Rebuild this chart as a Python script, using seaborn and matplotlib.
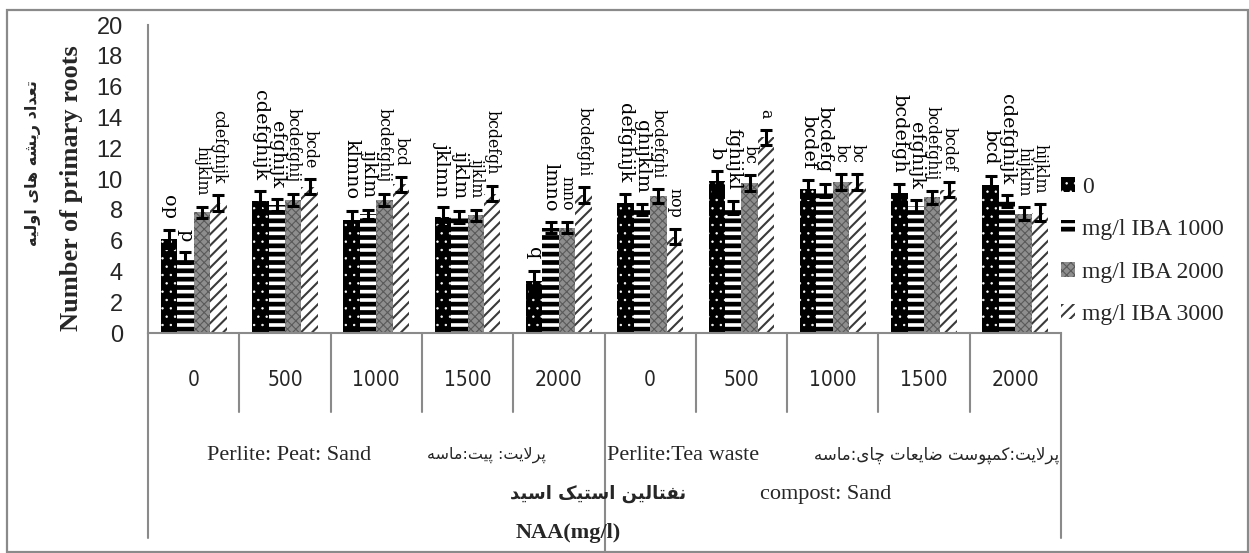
import numpy as np
import pandas as pd
import matplotlib
matplotlib.use("Agg")
import matplotlib.pyplot as plt
import matplotlib.transforms as mtransforms
from matplotlib.patches import Patch, Rectangle
from matplotlib.lines import Line2D
import seaborn as sns

# ---- data -------------------------------------------------------------
naa_levels = ["0", "500", "1000", "1500", "2000", "0", "500", "1000", "1500", "2000"]
iba_levels = ["0", "mg/l IBA 1000", "mg/l IBA 2000", "mg/l IBA 3000"]

roots_iba0 = [6.1, 8.6, 7.35, 7.55, 3.4, 8.45, 9.9, 9.35, 9.1, 9.6]
roots_iba1000 = [4.9, 8.3, 7.7, 7.55, 6.85, 8.0, 8.15, 9.25, 8.25, 8.55]
roots_iba2000 = [7.85, 8.65, 8.65, 7.65, 6.85, 8.9, 9.75, 9.8, 8.8, 7.75]
roots_iba3000 = [8.45, 9.5, 9.65, 9.05, 8.95, 6.25, 12.7, 9.8, 9.3, 7.8]

se_iba0 = [0.6, 0.6, 0.6, 0.6, 0.65, 0.6, 0.65, 0.6, 0.6, 0.6]
se_iba1000 = [0.35, 0.4, 0.3, 0.4, 0.35, 0.35, 0.4, 0.43, 0.4, 0.4]
se_iba2000 = [0.35, 0.4, 0.4, 0.35, 0.35, 0.45, 0.5, 0.5, 0.4, 0.4]
se_iba3000 = [0.5, 0.5, 0.5, 0.5, 0.5, 0.5, 0.5, 0.5, 0.5, 0.55]

letters_iba0 = ["op", "cdefghijk", "klmno", "jklmn", "q", "defghijk", "b", "bcdef", "bcdefgh", "bcd"]
letters_iba1000 = ["p", "efghijk", "ijklm", "ijklm", "lmno", "ghijklm", "fghijkl", "bcdefg", "efghijk", "cdefghijk"]
letters_iba2000 = ["hijklm", "bcdefghij", "bcdefghij", "ijklm", "mno", "bcdefghi", "bc", "bc", "bcdefghij", "hijklm"]
letters_iba3000 = ["cdefghijk", "bcde", "bcd", "bcdefgh", "bcdefghi", "nop", "a", "bc", "bcdef", "hijklm"]

roots = [roots_iba0, roots_iba1000, roots_iba2000, roots_iba3000]
errors = [se_iba0, se_iba1000, se_iba2000, se_iba3000]
letters = [letters_iba0, letters_iba1000, letters_iba2000, letters_iba3000]

# ---- minimal Persian shaping (presentation forms, visual order) --------
_FORMS = {
    "\u0627": ("\uFE8D", "\uFE8E", None, None),            # alef
    "\u0628": ("\uFE8F", "\uFE90", "\uFE91", "\uFE92"),    # beh
    "\u067E": ("\uFB56", "\uFB57", "\uFB58", "\uFB59"),    # peh
    "\u062A": ("\uFE95", "\uFE96", "\uFE97", "\uFE98"),    # teh
    "\u0686": ("\uFB7A", "\uFB7B", "\uFB7C", "\uFB7D"),    # tcheh
    "\u062F": ("\uFEA9", "\uFEAA", None, None),            # dal
    "\u0631": ("\uFEAD", "\uFEAE", None, None),            # reh
    "\u0633": ("\uFEB1", "\uFEB2", "\uFEB3", "\uFEB4"),    # seen
    "\u0634": ("\uFEB5", "\uFEB6", "\uFEB7", "\uFEB8"),    # sheen
    "\u0636": ("\uFEBD", "\uFEBE", "\uFEBF", "\uFEC0"),    # dad
    "\u0639": ("\uFEC9", "\uFECA", "\uFECB", "\uFECC"),    # ain
    "\u0641": ("\uFED1", "\uFED2", "\uFED3", "\uFED4"),    # feh
    "\u06A9": ("\uFB8E", "\uFB8F", "\uFB90", "\uFB91"),    # keheh
    "\u0643": ("\uFB8E", "\uFB8F", "\uFB90", "\uFB91"),
    "\u0644": ("\uFEDD", "\uFEDE", "\uFEDF", "\uFEE0"),    # lam
    "\u0645": ("\uFEE1", "\uFEE2", "\uFEE3", "\uFEE4"),    # meem
    "\u0646": ("\uFEE5", "\uFEE6", "\uFEE7", "\uFEE8"),    # noon
    "\u0647": ("\uFEE9", "\uFEEA", "\uFEEB", "\uFEEC"),    # heh
    "\u0648": ("\uFEED", "\uFEEE", None, None),            # waw
    "\u06CC": ("\uFBFC", "\uFBFD", "\uFBFE", "\uFBFF"),    # farsi yeh
    "\u064A": ("\uFBFC", "\uFBFD", "\uFBFE", "\uFBFF"),
}


def _joins_forward(ch):
    return ch in _FORMS and _FORMS[ch][2] is not None


def shape_fa(text):
    out = []
    i = 0
    n = len(text)
    while i < n:
        ch = text[i]
        if ch not in _FORMS:
            out.append(ch)
            i += 1
            continue
        prev = text[i - 1] if i > 0 else ""
        linked_prev = _joins_forward(prev)
        # lam + alef ligature
        if ch == "\u0644" and i + 1 < n and text[i + 1] == "\u0627":
            out.append("\uFEFC" if linked_prev else "\uFEFB")
            i += 2
            continue
        nxt = text[i + 1] if i + 1 < n else ""
        linked_next = _joins_forward(ch) and nxt in _FORMS
        iso, fin, ini, med = _FORMS[ch]
        if linked_prev and linked_next:
            out.append(med)
        elif linked_prev:
            out.append(fin)
        elif linked_next:
            out.append(ini)
        else:
            out.append(iso)
        i += 1
    return "".join(reversed(out))


# ---- style --------------------------------------------------------------
sns.set_theme(style="white")
plt.rcParams["font.family"] = ["Liberation Serif", "DejaVu Sans"]
plt.rcParams["hatch.linewidth"] = 1.0

W, H = 1249, 553
fig = plt.figure(figsize=(W / 100, H / 100), dpi=100)
ax_left, ax_right, ax_top, ax_bottom = 148, 1061, 25, 333
ax = fig.add_axes([ax_left / W, 1 - ax_bottom / H,
                   (ax_right - ax_left) / W, (ax_bottom - ax_top) / H])

df = pd.DataFrame({
    "pos": np.tile(np.arange(len(naa_levels)), len(iba_levels)),
    "iba": np.repeat(iba_levels, len(naa_levels)),
    "roots": np.concatenate(roots),
})

sns.barplot(data=df, x="pos", y="roots", hue="iba", hue_order=iba_levels,
            width=0.72, errorbar=None, saturation=1, legend=False, ax=ax)
bar_containers = list(ax.containers)

series_style = [
    dict(facecolor="black", edgecolor="white", hatch="..", hlw=0.5),
    dict(facecolor="white", edgecolor="black", hatch="--", hlw=3.4),
    dict(facecolor="#8e8e8e", edgecolor="#5a5a5a", hatch="xxxx", hlw=0.8),
    dict(facecolor="white", edgecolor="#3a3a3a", hatch="///", hlw=1.5),
]


def style_patch(p, st):
    p.set_facecolor(st["facecolor"])
    p.set_edgecolor(st["edgecolor"])
    p.set_hatch(st["hatch"])
    p.set_linewidth(0)
    if hasattr(p, "set_hatch_linewidth"):
        p.set_hatch_linewidth(st["hlw"])
    else:
        p._hatch_linewidth = st["hlw"]


letter_font = ["DejaVu Serif", "Liberation Serif"]
for k, cont in enumerate(bar_containers):
    st = series_style[k]
    centers = []
    for p in cont.patches:
        style_patch(p, st)
        centers.append(p.get_x() + p.get_width() / 2)
    ax.errorbar(centers, roots[k], yerr=errors[k], fmt="none", ecolor="black",
                elinewidth=2.2, capsize=4.3, capthick=2.2, zorder=4)
    fs = 13.8 if k < 2 else 11.3
    for x, v, e, lab in zip(centers, roots[k], errors[k], letters[k]):
        ax.annotate(lab, xy=(x, v + e), xytext=(0, 8), textcoords="offset points",
                    rotation=270, ha="center", va="bottom", fontsize=fs,
                    family=letter_font, color="black")

# ---- axes ---------------------------------------------------------------
ax.set_xlim(-0.5, len(naa_levels) - 0.5)
ax.set_ylim(0, 20)
ax.set_yticks(np.arange(0, 21, 2))
ax.set_xticks(np.arange(len(naa_levels)))
ax.set_xticklabels(naa_levels, family=["DejaVu Sans"], fontstretch="condensed",
                   fontsize=15)
ax.set_yticklabels([str(v) for v in range(0, 21, 2)],
                   family=["Liberation Sans", "DejaVu Sans"], fontsize=17)
ax.tick_params(axis="x", length=0, pad=27)
ax.tick_params(axis="y", length=7, width=1, color="#888888", pad=11, direction="out")
ax.set_xlabel("")
ax.set_ylabel("")
for side in ("top", "right"):
    ax.spines[side].set_visible(False)
for side in ("left", "bottom"):
    ax.spines[side].set_color("#8a8a8a")
    ax.spines[side].set_linewidth(1.5)

# category table lines under the axis
blend = mtransforms.blended_transform_factory(ax.transData, ax.transAxes)
ax_h = ax_bottom - ax_top


def y_ax(ypix):
    return (ax_bottom - ypix) / ax_h


for b in np.arange(-0.5, len(naa_levels), 1.0):
    if b in (-0.5, len(naa_levels) - 0.5):
        yend = 538
    elif b == 4.5:
        yend = 553
    else:
        yend = 412
    ax.add_line(Line2D([b, b], [0, y_ax(yend)], transform=blend, color="#8a8a8a",
                       lw=1.5, clip_on=False))

# ---- legend ---------------------------------------------------------------
handles = [Patch(label=lab) for lab in iba_levels]
for h, st in zip(handles, series_style):
    style_patch(h, st)
leg = fig.legend(handles=handles, loc="center left",
                 bbox_to_anchor=(1061 / W, 1 - 251 / H), frameon=False,
                 prop=dict(family="Liberation Serif", size=17),
                 handlelength=0.6, handleheight=0.6, handletextpad=0.3,
                 labelspacing=0.9, borderpad=0, borderaxespad=0)
for lp, st in zip(leg.get_patches(), series_style):
    style_patch(lp, st)

# ---- labels -------------------------------------------------------------------


def fx(x):
    return x / W


def fy(y):
    return 1 - y / H


fig.text(fx(72), fy(188), "Number of primary roots", rotation=90, ha="center",
         va="center", fontsize=19, fontweight="bold", family="Liberation Serif")
fig.text(fx(33), fy(163), shape_fa("تعداد ریشه های اولیه"), rotation=90,
         ha="center", va="center", fontsize=11.5, fontweight="bold",
         family="DejaVu Sans")

row2 = 455
fig.text(fx(207), fy(row2), "Perlite: Peat: Sand", ha="left", va="center",
         fontsize=16, family="Liberation Serif")
fig.text(fx(546), fy(row2), shape_fa("پرلایت: پیت:ماسه"), ha="right", va="center",
         fontsize=11.5, family="DejaVu Sans")
fig.text(fx(607), fy(row2), "Perlite:Tea waste", ha="left", va="center",
         fontsize=16, family="Liberation Serif")
fig.text(fx(1059), fy(row2), shape_fa("پرلایت:کمپوست ضایعات چای:ماسه"), ha="right",
         va="center", fontsize=12, family="DejaVu Sans")

row3 = 494
fig.text(fx(598), fy(row3), shape_fa("نفتالین استیک اسید"), ha="center",
         va="center", fontsize=13, fontweight="bold", family="DejaVu Sans")
fig.text(fx(826), fy(row3), "compost: Sand", ha="center", va="center",
         fontsize=16, family="Liberation Serif")
fig.text(fx(568), fy(533), "NAA(mg/l)", ha="center", va="center",
         fontsize=16, fontweight="bold", family="Liberation Serif")

# outer frame
fig.patches.append(Rectangle((fx(7), fy(552)), fx(1248) - fx(7), fy(10) - fy(552),
                             transform=fig.transFigure, fill=False,
                             edgecolor="#8a8a8a", lw=1.6))

fig.savefig("out.png", dpi=100)
